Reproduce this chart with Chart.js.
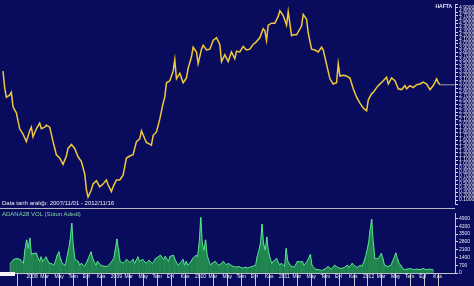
<!DOCTYPE html>
<html>
<head>
<meta charset="utf-8">
<script src="https://cdn.jsdelivr.net/npm/chart.js@4/dist/chart.umd.min.js"></script>
<style>
  html, body { margin: 0; padding: 0; background: #090b5c; overflow: hidden; }
  #wrap { position: relative; width: 474px; height: 286px; font-family: "Liberation Sans", Arial, sans-serif; }
  .box { position: absolute; left: 0; width: 474px; }
  .sep { position: absolute; left: 0; top: 208px; width: 455px; height: 1px; background: #b8b8c0; }
  .txt { position: absolute; white-space: nowrap; font-size: 6px; line-height: 6px; }
</style>
</head>
<body>
<div id="wrap">
  <div class="box" style="top:0;height:208px"><canvas id="price"></canvas></div>
  <div class="sep"></div>
  <div class="box" style="top:209px;height:77px"><canvas id="vol"></canvas></div>
  <div class="txt" style="right:22px;top:3px;color:#e8e8f0;font-weight:bold;font-size:5px">HAFTA</div>
  <div class="txt" style="left:2px;top:200px;color:#f0f0f0">Data tarih aralığı: 2007/11/01 - 2012/11/16</div>
  <div class="txt" style="left:2px;top:211px;color:#7fd8a0">ADANA28 VOL (Sütun Adedi)</div>
  <div style="position:absolute;left:0;top:272px;width:15px;height:4px;background:#f4f4f4"></div>
</div>
<script>
// weeks counted from 2007-11-01, weekly bars
const priceWeeks = [0, 1, 2, 4, 5, 6, 8, 10, 12, 14, 16, 17, 18, 20, 22, 23, 25, 26, 28, 30,
  32, 34, 36, 38, 39, 41, 43, 45, 47, 49, 50, 51, 53, 54, 56, 58, 60, 62, 63, 65,
  66, 68, 70, 72, 74, 76, 78, 80, 82, 83, 85, 86, 89, 90, 92, 94, 96, 97, 98, 100,
  102, 103, 104, 106, 108, 110, 111, 113, 114, 116, 117, 119, 120, 122, 124, 126, 128, 130, 131, 133,
  135, 137, 139, 140, 142, 144, 146, 148, 150, 152, 154, 156, 157, 158, 159, 161, 163, 165, 166, 168,
  170, 171, 173, 174, 176, 179, 180, 182, 183, 185, 187, 189, 191, 192, 194, 196, 198, 200, 201, 202,
  204, 206, 208, 210, 212, 214, 216, 218, 219, 221, 222, 224, 225, 228, 230, 231, 233, 235, 237, 239,
  241, 242, 244, 246, 248, 250, 252, 254, 256, 258, 260, 261, 262];
const priceClose = [3.32, 2.91, 2.67, 2.72, 2.79, 2.43, 2.28, 1.88, 1.75, 1.56, 1.83, 1.92, 1.68, 1.88, 2.02, 1.88, 1.92, 1.97, 1.92, 1.56,
  1.23, 1.15, 0.99, 1.20, 1.39, 1.49, 1.39, 1.18, 1.06, 0.75, 0.36, 0.17, 0.36, 0.50, 0.58, 0.43, 0.50, 0.60, 0.48, 0.31,
  0.43, 0.60, 0.60, 0.72, 1.15, 1.20, 1.23, 1.56, 1.63, 1.83, 1.63, 1.54, 1.47, 1.71, 1.80, 2.12, 2.52, 2.67, 3.03, 3.08,
  3.32, 3.61, 3.13, 3.27, 3.03, 3.15, 3.39, 3.68, 3.92, 3.80, 3.51, 3.87, 3.97, 3.85, 3.87, 4.09, 4.16, 3.99, 3.56, 3.73,
  3.56, 3.80, 3.63, 3.82, 3.80, 3.94, 3.85, 3.87, 3.99, 4.06, 4.16, 4.38, 4.33, 4.09, 4.47, 4.52, 4.52, 4.69, 4.83, 4.71,
  4.47, 4.81, 4.21, 4.23, 4.23, 4.45, 4.74, 4.62, 4.28, 3.87, 3.85, 3.80, 3.92, 3.85, 3.49, 3.13, 3.00, 3.03, 3.51, 3.20,
  3.22, 3.20, 3.15, 2.88, 2.67, 2.52, 2.40, 2.33, 2.60, 2.76, 2.79, 2.91, 2.96, 3.08, 3.17, 3.00, 3.15, 3.08, 2.88, 2.86,
  2.96, 2.88, 2.96, 2.91, 2.98, 3.00, 3.05, 3.00, 2.86, 2.96, 3.13, 3.03, 2.98];

const volWeeks = [0, 2, 4, 6, 8, 9, 10, 11, 12, 13, 14, 16, 18, 19, 20, 22, 24, 25, 27, 29,
  30, 31, 32, 34, 36, 37, 38, 39, 40, 42, 43, 44, 46, 48, 50, 51, 53, 54, 56, 58,
  60, 62, 64, 65, 66, 67, 68, 70, 72, 74, 76, 77, 79, 80, 82, 84, 86, 88, 90, 92,
  93, 95, 96, 98, 99, 101, 102, 104, 105, 107, 108, 109, 110, 112, 113, 115, 116, 117, 118, 119,
  120, 121, 122, 124, 125, 127, 129, 131, 132, 134, 135, 138, 140, 141, 144, 146, 147, 150, 152, 153,
  155, 156, 157, 158, 159, 160, 162, 163, 165, 167, 168, 170, 171, 172, 174, 176, 178, 180, 181, 182,
  184, 186, 187, 189, 191, 193, 195, 197, 199, 201, 203, 205, 207, 209, 210, 212, 213, 215, 217, 218,
  220, 222, 223, 224, 225, 226, 227, 228, 230, 231, 232, 234, 236, 237, 239, 240, 241, 242, 244, 246,
  248, 250, 252, 254, 256, 258, 260, 262];
const volume = [875, 1225, 1300, 1225, 875, 2100, 2975, 2200, 3150, 1660, 1750, 1800, 1050, 1450, 1050, 1450, 875, 875, 700, 1600,
  1900, 1300, 875, 700, 2100, 2975, 4460, 2360, 1225, 1050, 700, 875, 600, 1225, 1900, 1300, 700, 1050, 700, 600,
  600, 875, 1300, 2100, 3060, 2100, 1050, 875, 1225, 960, 1225, 875, 1450, 1050, 1225, 875, 1150, 850, 1300, 1500,
  1600, 1225, 1500, 1050, 1500, 1600, 1225, 700, 875, 1225, 700, 1050, 700, 1050, 1300, 1600, 1450, 2600, 4990, 2600,
  2040, 2975, 1600, 700, 875, 1050, 700, 875, 1050, 700, 875, 600, 525, 600, 440, 525, 440, 600, 700, 1450,
  2600, 4375, 2600, 2040, 3240, 1900, 875, 1050, 1300, 700, 875, 600, 2200, 1050, 600, 525, 1050, 1000, 1050, 700,
  1050, 1660, 700, 350, 300, 230, 350, 580, 350, 700, 500, 400, 500, 700, 500, 875, 700, 500, 700, 580,
  1330, 2600, 3820, 4830, 2800, 1300, 1300, 1300, 1750, 1300, 700, 580, 700, 1050, 1800, 1300, 875, 700, 300, 350,
  400, 300, 350, 300, 400, 300, 350, 300];
const volTicks = [0, 700, 1400, 2100, 2800, 3500, 4200, 4900];

// x-axis ticks every two months, year shown in January
const tickDates = ['2008-01', '2008-03', '2008-05', '2008-07', '2008-09', '2008-11',
  '2009-01', '2009-03', '2009-05', '2009-07', '2009-09', '2009-11',
  '2010-01', '2010-03', '2010-05', '2010-07', '2010-09', '2010-11',
  '2011-01', '2011-03', '2011-05', '2011-07', '2011-09', '2011-11',
  '2012-01', '2012-03', '2012-05', '2012-07', '2012-09', '2012-11'];
const monthNames = ['Oca', 'Şub', 'Mar', 'Nis', 'May', 'Haz', 'Tem', 'Ağu', 'Eyl', 'Eki', 'Kas', 'Ara'];

const startDay = Date.UTC(2007, 10, 1);
const tickWeeks = tickDates.map(d => {
  const [y, m] = d.split('-').map(Number);
  return (Date.UTC(y, m - 1, 1) - startDay) / (7 * 864e5);
});
const tickText = tickDates.map(d => {
  const [y, m] = d.split('-').map(Number);
  return m === 1 ? String(y) : monthNames[m - 1];
});

const X_MIN = -1.8, X_MAX = 271;
const AXIS_W = 19;
const font = { family: 'Liberation Sans', size: 5 };

const pricePts = priceWeeks.map((w, i) => ({ x: w, y: priceClose[i] }));
const lastIdx = priceWeeks.length - 1;
const lastLine = [
  { x: priceWeeks[lastIdx], y: priceClose[lastIdx] },
  { x: X_MAX, y: priceClose[lastIdx] }
];

new Chart(document.getElementById('price'), {
  type: 'line',
  data: {
    datasets: [{
      data: pricePts,
      borderColor: '#f0c83c',
      borderWidth: 1.5,
      pointRadius: 0,
      tension: 0
    }, {
      data: lastLine,
      borderColor: '#9c9cab',
      borderWidth: 1,
      pointRadius: 0
    }]
  },
  options: {
    responsive: true,
    maintainAspectRatio: false,
    animation: false,
    layout: { padding: 0 },
    plugins: { legend: { display: false }, tooltip: { enabled: false } },
    scales: {
      x: { type: 'linear', min: X_MIN, max: X_MAX, display: false },
      y: {
        position: 'right',
        min: 0, max: 5,
        afterFit: s => { s.width = AXIS_W; },
        border: { display: true, color: '#c4c4cc' },
        grid: { drawOnChartArea: false, drawTicks: true, tickLength: 3, color: '#d8d8e0' },
        ticks: {
          stepSize: 0.1, maxTicksLimit: 100, autoSkip: false, padding: 1,
          color: '#e6e6ee', font,
          callback: v => (v <= 0.05 || v >= 4.95) ? '' : v.toFixed(5)
        }
      }
    }
  }
});

const volPts = volWeeks.map((w, i) => ({ x: w, y: volume[i] }));

new Chart(document.getElementById('vol'), {
  data: {
    datasets: [{
      type: 'line',
      data: volPts,
      borderColor: '#52e48e',
      borderWidth: 1,
      backgroundColor: 'rgba(30,135,76,0.92)',
      fill: 'origin',
      pointRadius: 0,
      tension: 0
    }, {
      type: 'bar',
      data: volPts,
      backgroundColor: 'rgba(150,230,175,0.55)',
      barThickness: 1
    }]
  },
  options: {
    responsive: true,
    maintainAspectRatio: false,
    animation: false,
    layout: { padding: { top: 1 } },
    plugins: { legend: { display: false }, tooltip: { enabled: false } },
    scales: {
      x: {
        type: 'linear', min: X_MIN, max: X_MAX,
        afterFit: s => { s.height = 13; },
        afterBuildTicks: s => { s.ticks = tickWeeks.map(v => ({ value: v })); },
        border: { display: true, color: '#c4c4cc' },
        grid: { drawOnChartArea: false, drawTicks: true, tickLength: 13, color: '#c8c8d0' },
        ticks: {
          autoSkip: false, maxRotation: 0, align: 'start', labelOffset: 2, padding: -12,
          color: '#f0f0f0', font: { family: 'Liberation Sans', size: 5 },
          callback: (v, i) => tickText[i]
        }
      },
      y: {
        position: 'right',
        min: 0, max: 5400,
        afterFit: s => { s.width = AXIS_W; },
        afterBuildTicks: s => { s.ticks = volTicks.map(v => ({ value: v })); },
        border: { display: true, color: '#c4c4cc' },
        grid: { drawOnChartArea: false, drawTicks: true, tickLength: 3, color: '#d8d8e0' },
        ticks: {
          autoSkip: false, padding: 1, color: '#e6e6ee', font,
          callback: (v, i) => String(volTicks[i])
        }
      }
    }
  }
});
</script>
</body>
</html>
